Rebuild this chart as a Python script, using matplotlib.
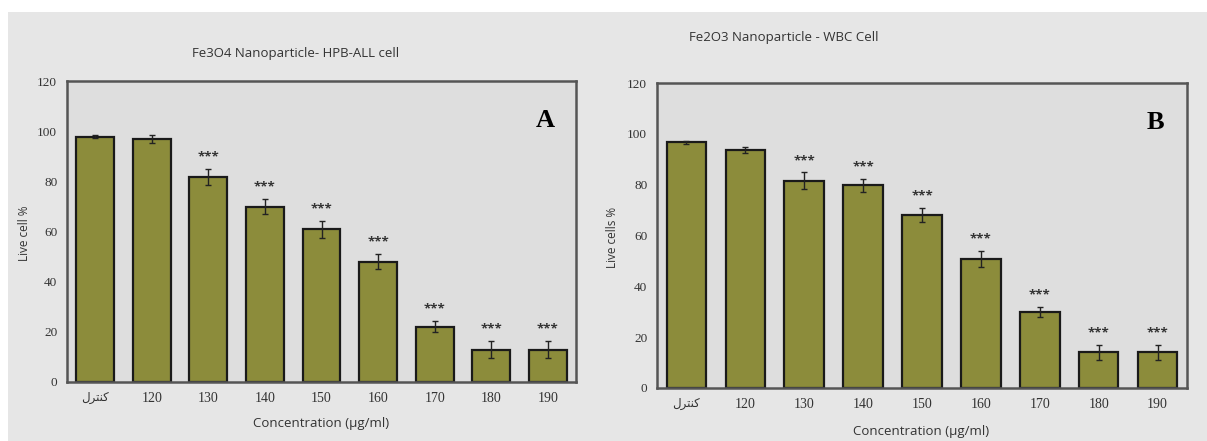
import numpy as np
import matplotlib.pyplot as plt
from matplotlib.patches import Rectangle

# control label (Persian "کنترل") in presentation forms, left-to-right glyph order
control = "\uFEDD\uFEAE\uFE98\uFEE8\uFB90"
doses = [control, "120", "130", "140", "150", "160", "170", "180", "190"]

fe3o4_live = [97.8, 96.8, 81.8, 69.8, 60.8, 48.0, 22.0, 12.8, 12.8]
fe3o4_err = [0.6, 1.5, 3.2, 3.0, 3.4, 3.0, 2.2, 3.4, 3.4]
fe3o4_sig = ["", "", "***", "***", "***", "***", "***", "***", "***"]

fe2o3_live = [96.6, 93.8, 81.6, 79.8, 68.0, 50.8, 30.0, 14.0, 14.0]
fe2o3_err = [0.6, 1.2, 3.2, 2.6, 2.8, 3.2, 2.0, 3.0, 3.0]
fe2o3_sig = ["", "", "***", "***", "***", "***", "***", "***", "***"]

W, H = 1207, 441
BAR = "#8c8c3b"
PANEL = "#e6e6e6"
INNER = "#dedede"
SANS = ["Open Sans", "DejaVu Sans"]
SERIF = ["Liberation Serif", "DejaVu Sans"]


def px_axes(fig, left, top, right, bottom):
    return fig.add_axes([left / W, (H - bottom) / H, (right - left) / W, (bottom - top) / H])


def panel(ax, vals, errs, sig, letter):
    x = np.arange(len(doses))
    ax.set_facecolor(INNER)
    ax.bar(x, vals, width=0.67, color=BAR, edgecolor="#1a1a1a", linewidth=1.6, zorder=2)
    ax.errorbar(x, vals, yerr=errs, fmt="none", ecolor="#222222", elinewidth=1.0,
                capsize=2.5, capthick=1.0, zorder=3)
    for xi, v, e, s in zip(x, vals, errs, sig):
        if s:
            ax.annotate(s, (xi, v + e), xytext=(0, 4), textcoords="offset points",
                        ha="center", va="bottom", fontsize=9.5, fontweight="bold",
                        color="#333333", family=SANS)
    ax.set_xlim(-0.5, len(doses) - 0.5)
    ax.set_ylim(0, 120)
    ax.set_yticks(range(0, 121, 20))
    ax.set_xticks(x)
    ax.set_xticklabels(doses, family=SERIF, fontsize=10, color="#333333")
    ax.get_xticklabels()[0].set_fontsize(8.5)
    for lab in ax.get_yticklabels():
        lab.set_family(SERIF)
        lab.set_fontsize(9.5)
        lab.set_color("#333333")
    ax.tick_params(axis="x", length=0, pad=7)
    ax.tick_params(axis="y", length=0, pad=7)
    for sp in ax.spines.values():
        sp.set_color("#555555")
        sp.set_linewidth(1.8)
    ax.text(0.94, 0.87, letter, transform=ax.transAxes, ha="center", va="center",
            fontsize=19, fontweight="bold", family=["Liberation Serif", "DejaVu Serif"])


fig = plt.figure(figsize=(W / 100, H / 100), dpi=100)
fig.patch.set_facecolor("white")
fig.add_artist(Rectangle((8 / W, 0), 1, (H - 12) / H, transform=fig.transFigure,
                         facecolor=PANEL, edgecolor="none", zorder=0))

ax_a = px_axes(fig, 67, 81, 576, 382)
panel(ax_a, fe3o4_live, fe3o4_err, fe3o4_sig, "A")
ax_b = px_axes(fig, 657, 83, 1187, 388)
panel(ax_b, fe2o3_live, fe2o3_err, fe2o3_sig, "B")


def ftext(x, y, s, **kw):
    fig.text(x / W, 1 - y / H, s, ha="center", va="center", color="#333333",
             family=SANS, **kw)


ftext(296, 53, "Fe3O4 Nanoparticle- HPB-ALL cell", fontsize=9.5)
ftext(784, 38, "Fe2O3 Nanoparticle - WBC Cell", fontsize=9.5)
ftext(25, 233, "Live cell %", fontsize=8.5, rotation=90)
ftext(612, 237, "Live cells %", fontsize=8.5, rotation=90)
ftext(321, 423, "Concentration (\u00b5g/ml)", fontsize=9.5)
ftext(921, 432, "Concentration (\u00b5g/ml)", fontsize=9.5)

fig.savefig("out.png", dpi=100, facecolor=fig.get_facecolor())
